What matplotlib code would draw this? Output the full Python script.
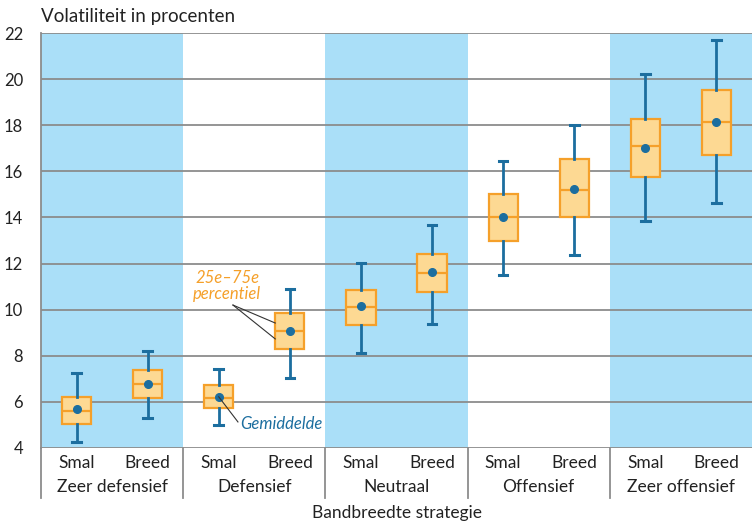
import matplotlib.pyplot as plt

groups = ["Zeer defensief", "Defensief", "Neutraal", "Offensief", "Zeer offensief"]
widths = ["Smal", "Breed"]

# per box: Smal, Breed for each group in order
whislo = [4.27, 5.29, 5.01, 7.02, 8.12, 9.38, 11.52, 12.37, 13.86, 14.61]
q1 = [5.04, 6.15, 5.72, 8.29, 9.35, 10.78, 13.00, 14.03, 15.74, 16.71]
med = [5.62, 6.78, 6.18, 9.07, 10.11, 11.60, 14.02, 15.19, 17.11, 18.15]
q3 = [6.21, 7.38, 6.72, 9.84, 10.86, 12.43, 15.01, 16.53, 18.25, 19.52]
whishi = [7.25, 8.22, 7.44, 10.88, 12.03, 13.68, 16.46, 18.00, 20.23, 21.70]
mean = [5.68, 6.77, 6.22, 9.07, 10.14, 11.62, 14.03, 15.22, 17.02, 18.13]

blue = "#1c6e9f"
orange = "#f5a02a"
fill = "#fdd993"
shade = "#aadff8"
grid = "#8c8c8c"
font = "Lato"

plt.rcParams['font.family'] = [font, 'DejaVu Sans']

fig = plt.figure(figsize=(7.52, 5.23), dpi=100)
ax = fig.add_axes([41/752, 1-448/523, 1-41/752, 415/523])

for i in range(len(groups)):
    if i % 2 == 0:
        ax.axvspan(2*i - 0.5, 2*i + 1.5, color=shade, lw=0, zorder=0)

stats = []
for i in range(len(med)):
    stats.append(dict(whislo=whislo[i], q1=q1[i], med=med[i], q3=q3[i],
                      whishi=whishi[i], mean=mean[i], fliers=[]))

ax.bxp(stats, positions=range(len(stats)), widths=0.41, showmeans=True,
       patch_artist=True, capwidths=0.12,
       boxprops=dict(facecolor=fill, edgecolor=orange, lw=1.6),
       medianprops=dict(color=orange, lw=1.6),
       whiskerprops=dict(color=blue, lw=2),
       capprops=dict(color=blue, lw=2.2),
       meanprops=dict(marker="o", markerfacecolor=blue, markeredgecolor=blue,
                      markersize=5.5), zorder=3)

ax.set_xlim(-0.5, 9.5)
ax.set_ylim(4, 22)
ax.set_yticks(range(4, 23, 2))
ax.yaxis.grid(True, color=grid, lw=1.3, zorder=1)
ax.set_axisbelow(False)
for gl in ax.get_ygridlines():
    gl.set_zorder(1)
ax.tick_params(axis="y", length=0, pad=13, labelsize=12, colors="#222222")
ax.tick_params(axis="x", length=0, labelbottom=False)
for s in ["top", "right", "bottom"]:
    ax.spines[s].set_visible(False)
ax.spines["left"].set_color(grid)
ax.spines["left"].set_linewidth(1.3)

# category labels below axis
tr = ax.get_xaxis_transform()
for i in range(len(med)):
    ax.text(i, -0.036, widths[i % 2], transform=tr, ha="center", va="center",
            fontsize=12.5, color="#222222")
for i, g in enumerate(groups):
    ax.text(2*i + 0.5, -0.094, g, transform=tr, ha="center", va="center",
            fontsize=12.5, color="#222222")
for i in range(len(groups)):
    ax.plot([2*i - 0.5, 2*i - 0.5], [0, -0.12], transform=tr, color=grid,
            lw=1.3, clip_on=False)
ax.text(4.5, -0.157, "Bandbreedte strategie", transform=tr, ha="center",
        va="center", fontsize=12.5, color="#222222")

ax.text(0, 1.02, "Volatiliteit in procenten", transform=ax.transAxes,
        ha="left", va="bottom", fontsize=13.5, color="#222222")

# annotations
ax.text(2.12, 11.03, "25e–75e\npercentiel", ha="center", va="center",
        fontsize=12, color=orange, style="italic", linespacing=1.0)
ax.plot([2.2, 2.795], [10.2, 9.42], color="#333333", lw=0.8, zorder=4)
ax.plot([2.2, 2.795], [10.2, 8.73], color="#333333", lw=0.8, zorder=4)
ax.plot([2.0, 2.27], [6.22, 5.13], color="#333333", lw=0.8, zorder=4)
ax.text(2.3, 5.04, "Gemiddelde", ha="left", va="center", fontsize=12,
        color=blue, style="italic")

fig.savefig("out.png", dpi=100)
